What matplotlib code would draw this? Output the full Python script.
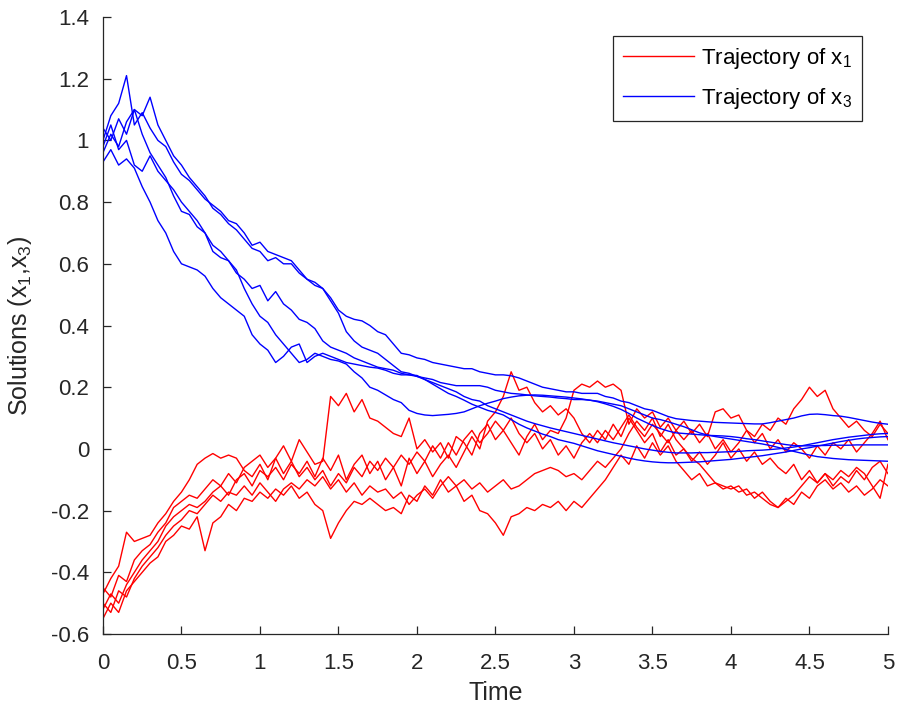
import numpy as np
import matplotlib
matplotlib.use("Agg")
import matplotlib.pyplot as plt
from matplotlib.ticker import FuncFormatter

# time grid (step 0.05)
t = np.linspace(0, 5, 101)

# ---- x3 trajectories (blue) ----
b1 = [1.00, 1.08, 1.12, 1.21, 1.05, 1.09, 1.04, 1.00, 0.98, 0.93,
      0.89, 0.87, 0.84, 0.81, 0.79, 0.77, 0.74, 0.73, 0.70, 0.66,
      0.67, 0.64, 0.63, 0.62, 0.61, 0.58, 0.55, 0.54, 0.52, 0.49,
      0.45, 0.43, 0.42, 0.415, 0.40, 0.38, 0.37, 0.34, 0.31, 0.305,
      0.295, 0.29, 0.28, 0.275, 0.27, 0.265, 0.26, 0.26, 0.25, 0.245,
      0.24, 0.24, 0.237, 0.23, 0.22, 0.21, 0.20, 0.195, 0.19, 0.185,
      0.185, 0.18, 0.18, 0.18, 0.17, 0.165, 0.155, 0.15, 0.14, 0.13,
      0.125, 0.115, 0.105, 0.098, 0.095, 0.092, 0.09, 0.088, 0.086, 0.085,
      0.084, 0.083, 0.082, 0.081, 0.081, 0.085, 0.09, 0.095, 0.10, 0.107,
      0.112, 0.113, 0.111, 0.108, 0.106, 0.102, 0.097, 0.092, 0.087, 0.083,
      0.08]
b2 = [0.96, 1.02, 0.98, 1.06, 1.10, 1.08, 1.14, 1.05, 1.00, 0.95,
      0.92, 0.88, 0.85, 0.82, 0.78, 0.76, 0.73, 0.71, 0.68, 0.65,
      0.64, 0.61, 0.62, 0.60, 0.60, 0.57, 0.55, 0.53, 0.52, 0.48,
      0.44, 0.38, 0.35, 0.33, 0.32, 0.31, 0.29, 0.27, 0.25, 0.245,
      0.235, 0.23, 0.225, 0.215, 0.21, 0.205, 0.205, 0.205, 0.205, 0.20,
      0.19, 0.185, 0.18, 0.178, 0.175, 0.172, 0.17, 0.168, 0.165, 0.163,
      0.16, 0.16, 0.158, 0.155, 0.15, 0.145, 0.14, 0.13, 0.12, 0.11,
      0.10, 0.095, 0.088, 0.08, 0.072, 0.062, 0.052, 0.045, 0.04, 0.036,
      0.032, 0.028, 0.024, 0.02, 0.016, 0.011, 0.005, -0.002, -0.008, -0.014,
      -0.02, -0.025, -0.028, -0.031, -0.033, -0.035, -0.036, -0.037, -0.038, -0.039,
      -0.04]
b3 = [1.04, 1.00, 1.07, 1.02, 1.10, 1.02, 0.96, 0.92, 0.88, 0.82,
      0.77, 0.76, 0.72, 0.70, 0.64, 0.62, 0.61, 0.57, 0.55, 0.52,
      0.53, 0.48, 0.51, 0.47, 0.45, 0.42, 0.41, 0.39, 0.35, 0.33,
      0.32, 0.31, 0.295, 0.285, 0.275, 0.265, 0.26, 0.255, 0.245, 0.24,
      0.235, 0.225, 0.215, 0.205, 0.195, 0.185, 0.17, 0.16, 0.155, 0.14,
      0.13, 0.12, 0.11, 0.10, 0.09, 0.082, 0.075, 0.068, 0.062, 0.056,
      0.05, 0.044, 0.038, 0.032, 0.026, 0.02, 0.015, 0.01, 0.005, 0.0,
      -0.004, -0.008, -0.011, -0.013, -0.013, -0.013, -0.012, -0.012, -0.011, -0.01,
      -0.009, -0.008, -0.006, -0.005, -0.004, -0.002, 0.0, 0.003, 0.006, 0.01,
      0.015, 0.02, 0.025, 0.03, 0.034, 0.038, 0.041, 0.044, 0.047, 0.049,
      0.05]
b4 = [0.98, 1.05, 0.97, 1.00, 0.92, 0.90, 0.95, 0.90, 0.87, 0.84,
      0.80, 0.77, 0.74, 0.70, 0.66, 0.64, 0.61, 0.58, 0.52, 0.47,
      0.43, 0.41, 0.37, 0.34, 0.31, 0.28, 0.29, 0.31, 0.30, 0.29,
      0.285, 0.275, 0.25, 0.23, 0.20, 0.19, 0.175, 0.16, 0.15, 0.125,
      0.115, 0.11, 0.108, 0.11, 0.112, 0.115, 0.12, 0.13, 0.14, 0.148,
      0.155, 0.163, 0.168, 0.172, 0.174, 0.175, 0.174, 0.172, 0.17, 0.168,
      0.165, 0.162, 0.158, 0.153, 0.146, 0.138, 0.128, 0.115, 0.10, 0.088,
      0.076, 0.066, 0.058, 0.052, 0.05, 0.048, 0.046, 0.044, 0.043, 0.042,
      0.04, 0.037, 0.033, 0.03, 0.026, 0.022, 0.018, 0.014, 0.011, 0.01,
      0.01, 0.011, 0.011, 0.012, 0.012, 0.012, 0.013, 0.013, 0.013, 0.013,
      0.013]
b5 = [0.93, 0.97, 0.92, 0.94, 0.91, 0.85, 0.80, 0.74, 0.70, 0.64,
      0.60, 0.59, 0.58, 0.56, 0.52, 0.49, 0.47, 0.45, 0.43, 0.37,
      0.34, 0.32, 0.28, 0.30, 0.33, 0.34, 0.28, 0.30, 0.31, 0.30,
      0.29, 0.28, 0.275, 0.27, 0.265, 0.262, 0.255, 0.245, 0.24, 0.24,
      0.238, 0.225, 0.21, 0.195, 0.18, 0.17, 0.158, 0.145, 0.135, 0.125,
      0.118, 0.11, 0.095, 0.08, 0.068, 0.058, 0.048, 0.04, 0.03, 0.024,
      0.018, 0.01, 0.002, -0.006, -0.012, -0.018, -0.024, -0.03, -0.035, -0.039,
      -0.042, -0.044, -0.045, -0.045, -0.044, -0.043, -0.042, -0.04, -0.038, -0.036,
      -0.034, -0.031, -0.028, -0.025, -0.022, -0.018, -0.014, -0.01, -0.005, 0.0,
      0.004, 0.009, 0.014, 0.019, 0.024, 0.028, 0.032, 0.035, 0.037, 0.039,
      0.04]

# ---- x1 trajectories (red) ----
r1 = [-0.47, -0.42, -0.38, -0.27, -0.30, -0.29, -0.28, -0.24, -0.21, -0.17,
      -0.14, -0.10, -0.05, -0.03, -0.015, -0.03, -0.02, -0.03, -0.07, -0.09,
      -0.05, -0.10, -0.03, 0.01, -0.04, 0.03, -0.01, -0.05, -0.04, 0.17,
      0.14, 0.18, 0.12, 0.16, 0.10, 0.09, 0.07, 0.05, 0.04, 0.10,
      0.0, 0.03, -0.01, 0.02, -0.03, 0.04, 0.02, -0.02, 0.05, 0.08,
      0.03, 0.06, 0.02, -0.02, 0.04, 0.08, 0.03, 0.06, 0.05, 0.10,
      0.19, 0.21, 0.20, 0.22, 0.20, 0.21, 0.19, 0.08, 0.13, 0.10,
      0.12, 0.07, 0.10, 0.06, 0.09, 0.05, 0.08, 0.04, 0.12, 0.13,
      0.10, 0.11, 0.06, 0.02, 0.05, 0.0, 0.03, -0.01, 0.02, 0.0,
      -0.03, 0.01, -0.02, 0.02, 0.0, 0.03, -0.01, 0.02, 0.05, 0.09,
      0.03]
r2 = [-0.52, -0.47, -0.50, -0.44, -0.40, -0.36, -0.33, -0.30, -0.25, -0.22,
      -0.20, -0.18, -0.19, -0.17, -0.14, -0.12, -0.15, -0.10, -0.08, -0.12,
      -0.07, -0.09, -0.06, -0.10, -0.05, -0.08, -0.04, -0.09, -0.03, -0.07,
      -0.02, -0.10, -0.05, -0.02, -0.08, -0.04, -0.10, -0.06, -0.12, -0.03,
      -0.08, -0.04, -0.09, -0.05, -0.02, -0.06, -0.01, 0.04, 0.0, 0.09,
      0.12, 0.17, 0.25, 0.19, 0.20, 0.15, 0.12, 0.14, 0.11, 0.13,
      0.10, 0.05, 0.02, 0.06, 0.03, 0.08, 0.04, 0.10, 0.06, 0.02,
      0.05, -0.01, 0.03, -0.02, 0.0, -0.04, -0.01, -0.05, -0.02, 0.02,
      -0.03, 0.0, -0.04, -0.01, -0.05, -0.03, -0.06, -0.08, -0.05, -0.10,
      -0.07, -0.11, -0.08, -0.12, -0.09, -0.11, -0.07, -0.10, -0.06, -0.04,
      -0.08]
r3 = [-0.55, -0.50, -0.53, -0.46, -0.43, -0.40, -0.37, -0.35, -0.30, -0.28,
      -0.25, -0.26, -0.22, -0.33, -0.24, -0.22, -0.18, -0.20, -0.16, -0.17,
      -0.14, -0.16, -0.13, -0.15, -0.12, -0.16, -0.14, -0.18, -0.20, -0.29,
      -0.24, -0.20, -0.17, -0.18, -0.16, -0.18, -0.20, -0.19, -0.21, -0.15,
      -0.17, -0.12, -0.15, -0.10, -0.14, -0.12, -0.17, -0.15, -0.20, -0.21,
      -0.24, -0.28, -0.22, -0.21, -0.19, -0.20, -0.18, -0.19, -0.17, -0.20,
      -0.17, -0.19, -0.16, -0.13, -0.10, -0.06, -0.02, -0.05, 0.01, -0.03,
      0.02, -0.02, 0.01, -0.04, -0.07, -0.10, -0.08, -0.12, -0.11, -0.13,
      -0.12, -0.14, -0.13, -0.16, -0.14, -0.17, -0.19, -0.16, -0.18, -0.14,
      -0.16, -0.12, -0.10, -0.13, -0.11, -0.14, -0.12, -0.15, -0.13, -0.10,
      -0.12]
r4 = [-0.45, -0.48, -0.41, -0.43, -0.36, -0.33, -0.31, -0.27, -0.24, -0.19,
      -0.17, -0.15, -0.16, -0.13, -0.10, -0.12, -0.08, -0.11, -0.06, -0.04,
      -0.02, -0.06, -0.03, -0.08, -0.04, -0.09, -0.06, -0.10, -0.07, -0.12,
      -0.08, -0.11, -0.06, -0.09, -0.04, -0.07, -0.03, -0.06, -0.02, -0.05,
      -0.01, -0.04, 0.01, -0.03, 0.02, -0.02, 0.03, 0.06, 0.02, 0.05,
      0.09, 0.06, 0.10, 0.05, 0.02, 0.05, 0.0, 0.03, -0.02, 0.01,
      -0.03, 0.02, 0.05, 0.02, 0.06, 0.03, 0.07, 0.11, 0.07, 0.04,
      0.08, 0.05, 0.02, 0.06, 0.03, 0.06, 0.02, 0.05, 0.0, 0.03,
      -0.01, 0.02, 0.06, 0.04, 0.08, 0.06, 0.10, 0.08, 0.13, 0.16,
      0.20, 0.17, 0.19, 0.13, 0.10, 0.07, 0.09, 0.06, 0.04, 0.08,
      0.05]
r5 = [-0.50, -0.53, -0.46, -0.48, -0.42, -0.38, -0.35, -0.32, -0.28, -0.25,
      -0.23, -0.20, -0.21, -0.18, -0.15, -0.17, -0.14, -0.15, -0.12, -0.15,
      -0.11, -0.14, -0.17, -0.13, -0.11, -0.13, -0.10, -0.12, -0.09, -0.13,
      -0.10, -0.14, -0.11, -0.15, -0.12, -0.14, -0.13, -0.16, -0.14, -0.18,
      -0.15, -0.13, -0.16, -0.12, -0.09, -0.12, -0.10, -0.13, -0.11, -0.14,
      -0.12, -0.10, -0.13, -0.12, -0.10, -0.08, -0.07, -0.06, -0.07, -0.09,
      -0.08, -0.10, -0.07, -0.04, -0.06, -0.03, 0.0, 0.05, 0.09, 0.06,
      0.10, 0.04, 0.08, 0.03, 0.0, -0.03, -0.05, -0.08, -0.11, -0.12,
      -0.13, -0.12, -0.15, -0.14, -0.16, -0.18, -0.19, -0.17, -0.15, -0.12,
      -0.09, -0.11, -0.08, -0.10, -0.07, -0.09, -0.06, -0.08, -0.12, -0.16,
      -0.05]

red_series = [r1, r2, r3, r4, r5]
blue_series = [b1, b2, b3, b4, b5]

x_ticks = [0, 0.5, 1, 1.5, 2, 2.5, 3, 3.5, 4, 4.5, 5]
y_ticks = [-0.6, -0.4, -0.2, 0, 0.2, 0.4, 0.6, 0.8, 1, 1.2, 1.4]

plt.rcParams['font.family'] = ['Liberation Sans', 'DejaVu Sans']
plt.rcParams['mathtext.fontset'] = 'custom'
plt.rcParams['mathtext.rm'] = 'Liberation Sans'
plt.rcParams['mathtext.it'] = 'Liberation Sans'
plt.rcParams['axes.unicode_minus'] = False

fig = plt.figure(figsize=(9, 7.08), dpi=100)
ax = fig.add_axes([0.1144, 0.1045, 0.8722, 0.8715])

for i, r in enumerate(red_series):
    ax.plot(t, r, color=(1, 0, 0), lw=1.0,
            label='Trajectory of x$_1$' if i == 0 else None)
for i, b in enumerate(blue_series):
    ax.plot(t, b, color=(0, 0, 1), lw=1.0,
            label='Trajectory of x$_3$' if i == 0 else None)

ax.set_xlim(0, 5)
ax.set_ylim(-0.6, 1.4)
ax.set_xticks(x_ticks)
ax.set_yticks(y_ticks)

def fmt(v, pos):
    s = ('%.1f' % v).rstrip('0').rstrip('.')
    return '0' if s in ('-0', '') else s

ax.xaxis.set_major_formatter(FuncFormatter(fmt))
ax.yaxis.set_major_formatter(FuncFormatter(fmt))
ax.tick_params(direction='in', length=6, width=0.9, labelsize=16, colors='#262626')
ax.tick_params(axis='x', pad=14)
ax.tick_params(axis='y', pad=10)
for s in ['top', 'right']:
    ax.spines[s].set_visible(False)
for s in ['left', 'bottom']:
    ax.spines[s].set_linewidth(0.9)
    ax.spines[s].set_color('#262626')

ax.set_xlabel('Time', fontsize=18, color='#262626', labelpad=5)
ax.set_ylabel('Solutions (x$_1$,x$_3$)', fontsize=18, color='#262626', labelpad=12)

leg = ax.legend(loc='upper right', bbox_to_anchor=(0.967, 0.969), fontsize=16,
                frameon=True, fancybox=False, edgecolor='#262626', framealpha=1,
                handlelength=3.2, borderpad=0.45, labelspacing=0.65, handletextpad=0.3,
                borderaxespad=0.0)
leg.get_frame().set_linewidth(0.9)

fig.savefig('out.png', dpi=100)
